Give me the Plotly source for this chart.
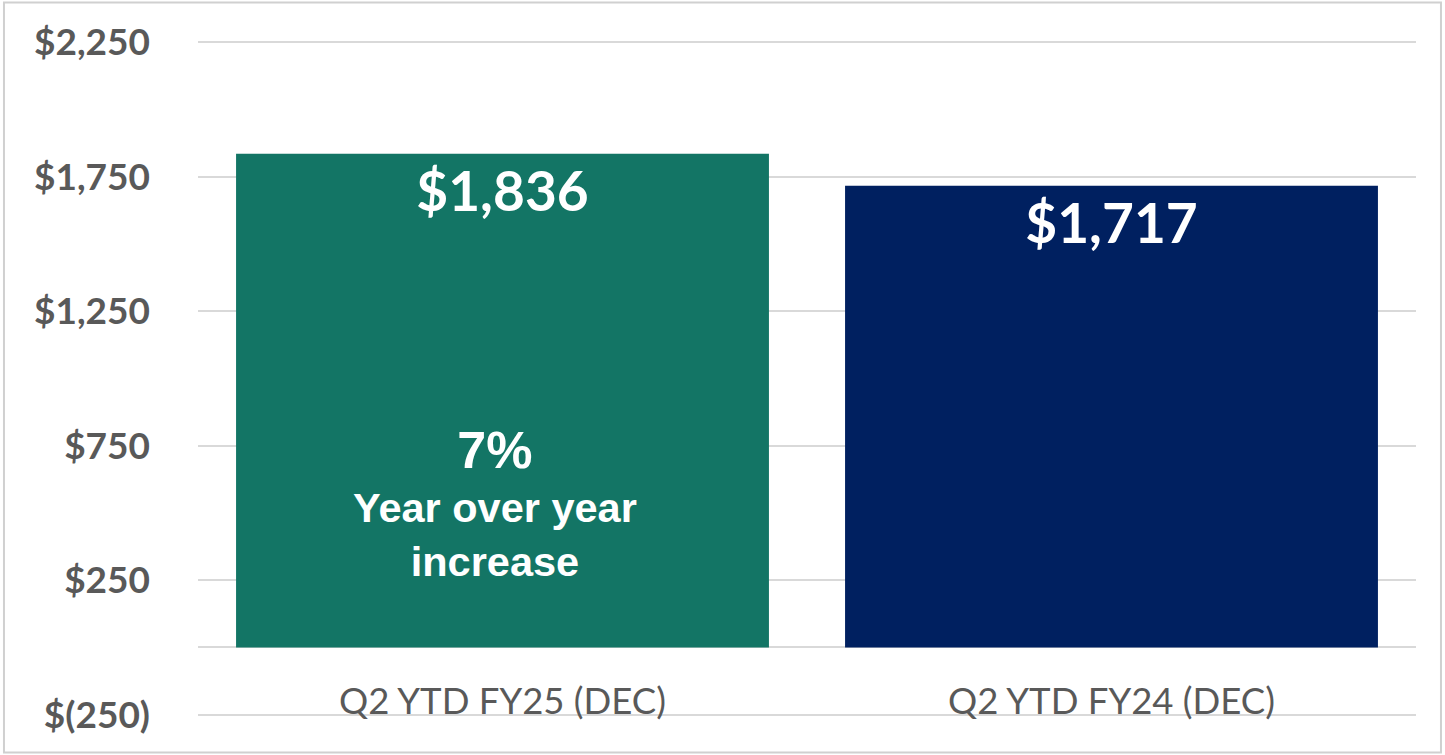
import plotly.graph_objects as go

# Datos
categorias = ["Q2 YTD FY25 (DEC)", "Q2 YTD FY24 (DEC)"]
valores = [1836, 1717]
etiquetas_valor = ["$1,836", "$1,717"]
colores = ["#137565", "#002060"]

tick_vals = [-250, 250, 750, 1250, 1750, 2250]
tick_text = ["$(250)", "$250", "$750", "$1,250", "$1,750", "$2,250"]

nota_pct = "7%"
nota_texto = ["Year over year", "increase"]

gris_texto = "#595959"
gris_linea = "#d9d9d9"

fig = go.Figure()
fig.add_trace(go.Bar(
    x=categorias, y=valores,
    marker=dict(color=colores, line=dict(width=0)),
    text=etiquetas_valor,
    textposition="inside", insidetextanchor="end",
    textangle=0, constraintext="none",
    textfont=dict(family="Lato", size=55, color="white", weight="bold"),
    hoverinfo="skip",
))

# Nota dentro de la primera barra
fig.add_annotation(
    x=categorias[0], y=536, xref="x", yref="y",
    xshift=-8,
    text=f"<span style='font-size:52px'>{nota_pct}</span><br>" + "<br>".join(nota_texto),
    showarrow=False, align="center", yanchor="middle",
    font=dict(family="Liberation Sans", size=41.5, color="white", weight="bold"),
)

# Marco gris alrededor de la imagen
fig.add_shape(type="rect", xref="paper", yref="paper",
              x0=-0.1593, x1=1.0205, y0=-0.054, y1=1.057,
              line=dict(color="#d0d0d0", width=2), fillcolor="rgba(0,0,0,0)")

fig.update_layout(
    width=1445, height=755,
    margin=dict(l=198, r=29, t=41, b=39),
    paper_bgcolor="white", plot_bgcolor="white",
    bargap=0.125, showlegend=False,
)

# rango con un pequeño margen para que se vean las líneas de los extremos
fig.update_yaxes(
    range=[-255, 2255], tickvals=tick_vals, ticktext=tick_text,
    showgrid=True, gridcolor=gris_linea, gridwidth=1.5,
    zeroline=True, zerolinecolor=gris_linea, zerolinewidth=1.5,
    showline=False, ticks="", ticklabelstandoff=47,
    tickfont=dict(family="Lato", size=37, color=gris_texto, weight="bold"),
)
fig.update_xaxes(
    showline=False, showgrid=False, ticks="",
    ticklabelstandoff=-40,
    tickfont=dict(family="Lato", size=36.5, color=gris_texto),
)

# sin margen del body para que la figura ocupe toda la ventana
fig.write_html("out.html", config={"displayModeBar": False},
               post_script="document.body.style.margin='0';document.body.style.overflow='hidden';")
